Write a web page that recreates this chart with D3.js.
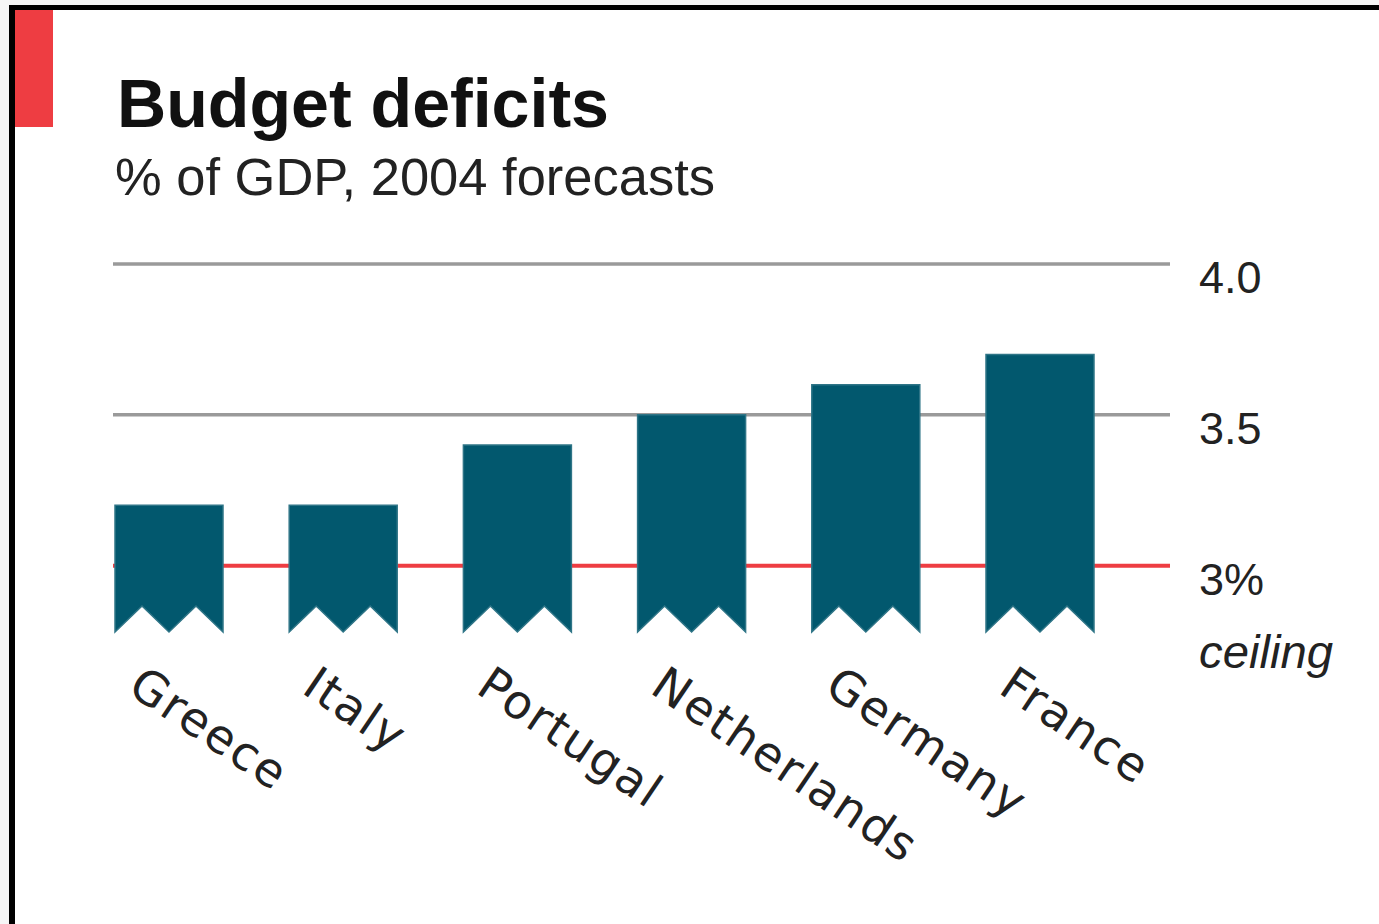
<!DOCTYPE html>
<html>
<head>
<meta charset="utf-8">
<script src="https://cdn.jsdelivr.net/npm/d3@7"></script>
<style>
  html, body { margin: 0; padding: 0; background: #f6f6f6; }
  svg { display: block; }
</style>
</head>
<body>
<script>
// ---- data ----
const categories = ["Greece", "Italy", "Portugal", "Netherlands", "Germany", "France"];
const deficits = [3.2, 3.2, 3.4, 3.5, 3.6, 3.7];
const gridValues = [4.0, 3.5];
const gridLabels = ["4.0", "3.5"];
const ceilingValue = 3.0;
const ceilingLabels = ["3%", "ceiling"];
const title = "Budget deficits";
const subtitle = "% of GDP, 2004 forecasts";
const brokenBase = 2.78; // truncated (zig-zag) base of the bars

const W = 1379, H = 924;
const svg = d3.select("body").append("svg").attr("width", W).attr("height", H);

// panel background + frame
svg.append("rect").attr("x", 9).attr("y", 5).attr("width", W - 9).attr("height", H - 5).attr("fill", "#ffffff");
svg.append("rect").attr("x", 9).attr("y", 5).attr("width", W - 9).attr("height", 5).attr("fill", "#000");
svg.append("rect").attr("x", 9).attr("y", 5).attr("width", 6).attr("height", H - 5).attr("fill", "#000");
svg.append("rect").attr("x", 15).attr("y", 10).attr("width", 38).attr("height", 117).attr("fill", "#ee3d42");

// titles
svg.append("text").attr("x", 117).attr("y", 127)
  .attr("font-family", "'Liberation Sans', Arial, sans-serif").attr("font-weight", "bold")
  .attr("font-size", 68).attr("fill", "#111")
  .attr("textLength", 492).attr("lengthAdjust", "spacingAndGlyphs")
  .text(title);
svg.append("text").attr("x", 115).attr("y", 195)
  .attr("font-family", "'Liberation Sans', Arial, sans-serif")
  .attr("font-size", 51).attr("fill", "#222")
  .attr("textLength", 600).attr("lengthAdjust", "spacingAndGlyphs")
  .text(subtitle);

// scales
const x = d3.scaleBand().domain(categories).range([115, 1094]).paddingInner(0.38).paddingOuter(0);
const y = d3.scaleLinear().domain([brokenBase, 4.0]).range([632, 264]);
const lineX0 = 113, lineX1 = 1170;

// gridlines
const g = svg.append("g");
g.selectAll("line.grid").data(gridValues).enter().append("line")
  .attr("x1", lineX0).attr("x2", lineX1)
  .attr("y1", d => y(d)).attr("y2", d => y(d))
  .attr("stroke", "#9a9a9a").attr("stroke-width", 3.5);
g.append("line")
  .attr("x1", lineX0).attr("x2", lineX1)
  .attr("y1", y(ceilingValue)).attr("y2", y(ceilingValue))
  .attr("stroke", "#ee3d42").attr("stroke-width", 4);

// right labels
const labFont = "'Liberation Sans', Arial, sans-serif";
g.selectAll("text.tick").data(gridValues).enter().append("text")
  .attr("x", 1199).attr("y", d => y(d) + 29)
  .attr("font-family", labFont).attr("font-size", 45).attr("fill", "#222")
  .text((d, i) => gridLabels[i]);
g.append("text").attr("x", 1199).attr("y", y(ceilingValue) + 29)
  .attr("font-family", labFont).attr("font-size", 45).attr("fill", "#222")
  .text(ceilingLabels[0]);
g.append("text").attr("x", 1199).attr("y", y(ceilingValue) + 102)
  .attr("font-family", labFont).attr("font-style", "italic").attr("font-size", 47).attr("fill", "#222")
  .attr("textLength", 134).attr("lengthAdjust", "spacingAndGlyphs")
  .text(ceilingLabels[1]);

// bars with zig-zag bottom
const notch = 26;
function barPath(d, i) {
  const x0 = x(categories[i]), w = x.bandwidth();
  const top = y(d), bot = y(brokenBase);
  return `M${x0},${top} L${x0 + w},${top} L${x0 + w},${bot} L${x0 + 0.75 * w},${bot - notch} ` +
         `L${x0 + 0.5 * w},${bot} L${x0 + 0.25 * w},${bot - notch} L${x0},${bot} Z`;
}
svg.append("g").selectAll("path").data(deficits).enter().append("path")
  .attr("d", barPath)
  .attr("fill", "#02586e")
  .attr("stroke", "#2f7587").attr("stroke-width", 1.5);

// category labels, rotated
svg.append("g").selectAll("text").data(categories).enter().append("text")
  .attr("transform", d => `translate(${x(d) + 11},${y(brokenBase) + 60}) rotate(34)`)
  .attr("font-family", "'DejaVu Sans', sans-serif").attr("font-size", 47)
  .attr("letter-spacing", 2).attr("fill", "#222")
  .text(d => d);
</script>
</body>
</html>
